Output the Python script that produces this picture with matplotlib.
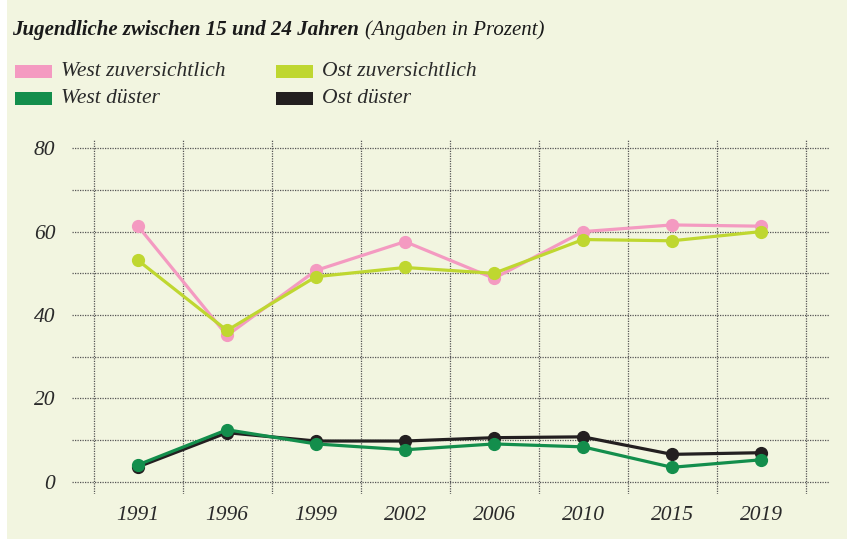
import matplotlib
matplotlib.use('Agg')
import matplotlib.pyplot as plt
from matplotlib.patches import Rectangle
import numpy as np

# Daten (Angaben in Prozent)
years = ['1991', '1996', '1999', '2002', '2006', '2010', '2015', '2019']
west_zuv = [61.3, 35.1, 50.7, 57.6, 48.8, 60.0, 61.6, 61.3]
ost_zuv = [53.1, 36.3, 49.2, 51.4, 50.0, 58.1, 57.8, 60.0]
west_dus = [4.1, 12.5, 9.1, 7.7, 9.1, 8.4, 3.5, 5.3]
ost_dus = [3.6, 11.8, 9.8, 9.8, 10.6, 10.8, 6.6, 7.0]

series = [
    ('West zuversichtlich', west_zuv, '#f49ac1'),
    ('Ost zuversichtlich', ost_zuv, '#bfd730'),
    ('Ost düster', ost_dus, '#231f20'),
    ('West düster', west_dus, '#138e4c'),
]
legend_order = [('West zuversichtlich', '#f49ac1'), ('West düster', '#138e4c'),
                ('Ost zuversichtlich', '#bfd730'), ('Ost düster', '#231f20')]

bg = '#f2f5e0'
font = 'Liberation Serif'
txt = '#2a2a2a'

fig = plt.figure(figsize=(8.47, 5.39), dpi=100, facecolor=bg)
# weisser Rand links
fig.patches.append(Rectangle((0, 0), 7 / 847, 1, transform=fig.transFigure,
                             facecolor='white', edgecolor='none', zorder=0))

ax = fig.add_axes([72 / 847, 1 - 494 / 539, 757 / 847, 355 / 539])
ax.set_facecolor(bg)
x = np.arange(len(years))

# Gitter
for yv in range(0, 81, 10):
    ax.axhline(yv, color='#555555', lw=0.9, ls=(0, (1, 1)), zorder=1)
for xv in np.arange(-0.5, len(years), 1):
    ax.axvline(xv, color='#555555', lw=0.9, ls=(0, (1, 1)), zorder=1)

for name, vals, col in series:
    ax.plot(x, vals, color=col, lw=2.3, marker='o', ms=8.5, zorder=3,
            solid_joinstyle='round')

ax.set_xlim(-0.742, 7.764)
ax.set_ylim(-2.9, 82.2)
for s in ax.spines.values():
    s.set_visible(False)
ax.set_xticks(x)
ax.set_xticklabels(years)
ax.set_yticks([0, 20, 40, 60, 80])
ax.tick_params(length=0, labelsize=15.5, colors=txt)
ax.tick_params(axis='y', pad=12)
ax.tick_params(axis='x', pad=9)
for lab in ax.get_xticklabels() + ax.get_yticklabels():
    lab.set_fontfamily(font)
    lab.set_fontstyle('italic')

# Titel
t1 = fig.text(12 / 847, 1 - 30 / 539, 'Jugendliche zwischen 15 und 24 Jahren',
              fontfamily=font, fontstyle='italic', fontweight='bold',
              fontsize=15, color='#1a1a1a', va='center', ha='left')
fig.canvas.draw()
bb = t1.get_window_extent()
fig.text((bb.x1 + 6) / 847, 1 - 30 / 539, '(Angaben in Prozent)',
         fontfamily=font, fontstyle='italic', fontsize=15, color='#1a1a1a',
         va='center', ha='left')

# Legende
pos = [(15, 71), (15, 98), (276, 71), (276, 98)]
for (name, col), (px, py) in zip(legend_order, pos):
    fig.patches.append(Rectangle((px / 847, 1 - (py + 6.5) / 539), 37 / 847, 13 / 539,
                                 transform=fig.transFigure, facecolor=col,
                                 edgecolor='none'))
    fig.text((px + 46) / 847, 1 - py / 539, name, fontfamily=font,
             fontstyle='italic', fontsize=15.5, color=txt, va='center', ha='left')

fig.savefig('out.png', dpi=100, facecolor=bg)
